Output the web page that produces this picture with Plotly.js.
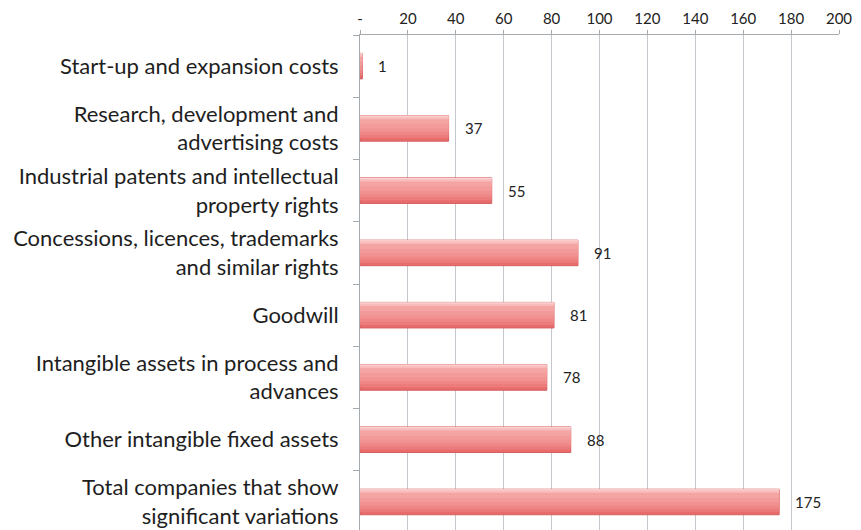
<!DOCTYPE html>
<html><head><meta charset="utf-8">
<script src="https://cdn.plot.ly/plotly-3.0.1.min.js"></script>
<style>body{margin:0;background:#fff}#chart{width:861px;height:530px}</style>
</head><body><div id="chart"></div>
<script>
const categories = [
  "Start-up and expansion costs",
  "Research, development and<br>advertising costs",
  "Industrial patents and intellectual<br>property rights",
  "Concessions, licences, trademarks<br>and similar rights",
  "Goodwill",
  "Intangible assets in process and<br>advances",
  "Other intangible fixed assets",
  "Total companies that show<br>significant variations"
];
const values = [1, 37, 55, 91, 81, 78, 88, 175];
const tickVals = [0, 20, 40, 60, 80, 100, 120, 140, 160, 180, 200];
const tickText = ["-", "20", "40", "60", "80", "100", "120", "140", "160", "180", "200"];

const font = "Lato, 'Open Sans', sans-serif";
const barW = 0.41, barTop = -0.205;
// gradient imitation: layers from the top edge downward, each lighter and shorter
const layers = [
  {frac: 1.00, color: "#e86c6c"},
  {frac: 0.88, color: "#ec7b7b"},
  {frac: 0.76, color: "#ef8787"},
  {frac: 0.64, color: "#f19191"},
  {frac: 0.50, color: "#f39a9a"},
  {frac: 0.34, color: "#f5a4a4"},
  {frac: 0.14, color: "#f8bcbc"},
  {frac: 0.05, color: "#fbd2d2"}
];
const traces = layers.map((L, k) => ({
  type: "bar", orientation: "h", x: values, y: categories,
  width: barW * L.frac, offset: barTop,
  marker: {color: L.color, line: k === 0 ? {color: "#d45f5f", width: 1} : {width: 0}},
  hoverinfo: "none"
}));
const annotations = values.map((v, i) => ({
  x: v, y: categories[i], xref: "x", yref: "y",
  text: String(v), showarrow: false, xanchor: "left", xshift: 14,
  font: {family: font, size: 15, color: "#222"}
}));
const layout = {
  width: 861, height: 530,
  margin: {l: 360, r: 22, t: 35, b: 0},
  paper_bgcolor: "#fff", plot_bgcolor: "#fff",
  showlegend: false,
  barmode: "overlay",
  xaxis: {
    side: "top", range: [0, 200], tickvals: tickVals, ticktext: tickText,
    showgrid: true, gridcolor: "#c4c8cc", gridwidth: 1,
    showline: true, linecolor: "#a6abb0", linewidth: 1,
    ticks: "outside", ticklen: 4, tickcolor: "#a6abb0",
    zeroline: false,
    tickfont: {family: font, size: 15, color: "#222"}
  },
  yaxis: {
    type: "category", range: [7.45, -0.5],
    showline: true, linecolor: "#a6abb0", linewidth: 1,
    ticks: "outside", ticklen: 6, tickcolor: "#a6abb0", tickson: "boundaries",
    ticklabelstandoff: 16,
    showgrid: false, zeroline: false,
    tickfont: {family: font, size: 22, color: "#1e1e1e"}
  },
  annotations: annotations
};
Plotly.newPlot("chart", traces, layout, {displayModeBar: false, staticPlot: true});
</script></body></html>
